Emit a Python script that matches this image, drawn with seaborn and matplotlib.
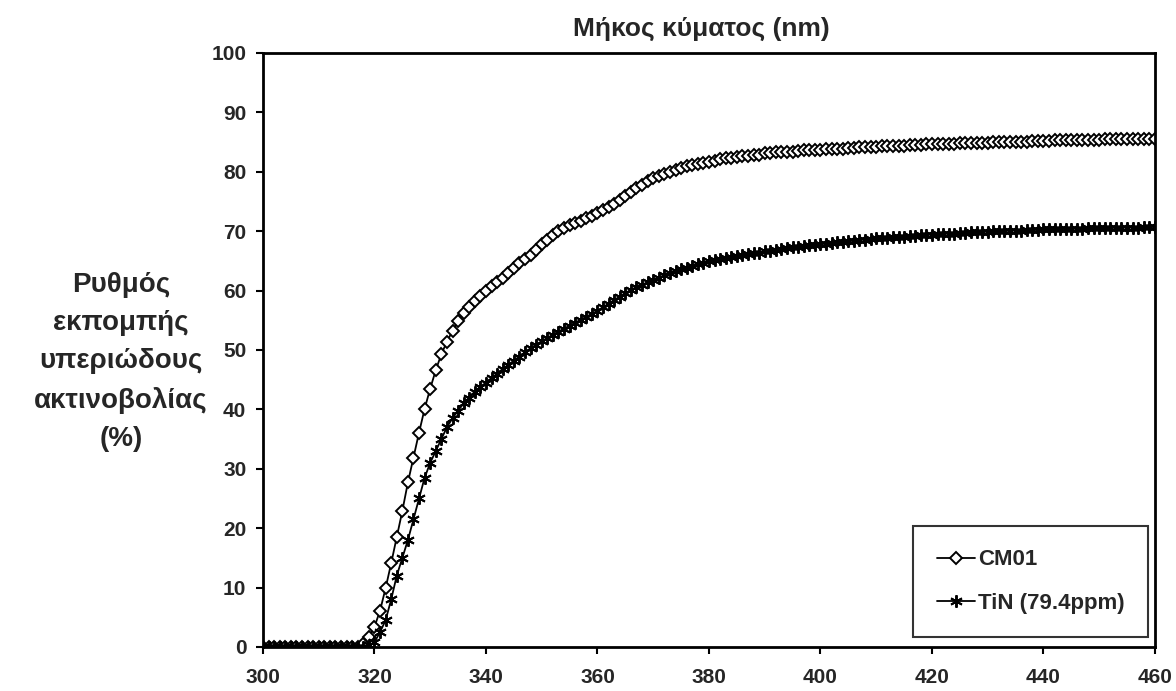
import matplotlib
matplotlib.use("Agg")
import matplotlib.pyplot as plt
import seaborn as sns
import pandas as pd
import numpy as np

# wavelength axis, one reading per nm
wavelength = list(range(300, 461))

cm01 = [0.0] * 18 + [
    0.5, 1.7, 3.4, 6.1, 9.9, 14.1, 18.5, 22.9, 27.7, 31.9,
    36.1, 40.1, 43.5, 46.6, 49.3, 51.4, 53.2, 54.9, 56.2, 57.3,
    58.3, 59.1, 59.9, 60.8, 61.5, 62.2, 63.0, 63.8, 64.6, 65.3,
    66.0, 66.8, 67.8, 68.6, 69.4, 70.0, 70.5, 71.0, 71.4, 71.8,
    72.2, 72.6, 73.1, 73.5, 74.0, 74.6, 75.3, 75.9, 76.6, 77.2,
    77.8, 78.4, 78.9, 79.3, 79.7, 80.0, 80.3, 80.6, 80.9, 81.1,
    81.3, 81.5, 81.7, 81.9, 82.1, 82.3, 82.4, 82.5, 82.6, 82.7,
    82.8, 82.9, 83.1, 83.2, 83.3, 83.3, 83.4, 83.4, 83.5, 83.6,
    83.6, 83.7, 83.7, 83.8, 83.8, 83.9, 83.9, 84.0, 84.0, 84.1,
    84.1, 84.2, 84.2, 84.3, 84.3, 84.3, 84.4, 84.4, 84.5, 84.5,
    84.5, 84.6, 84.6, 84.6, 84.7, 84.7, 84.7, 84.8, 84.8, 84.8,
    84.9, 84.9, 84.9, 85.0, 85.0, 85.0, 85.0, 85.1, 85.1, 85.1,
    85.2, 85.2, 85.2, 85.2, 85.3, 85.3, 85.3, 85.3, 85.4, 85.4,
    85.4, 85.4, 85.4, 85.5, 85.5, 85.5, 85.5, 85.5, 85.6, 85.6,
    85.6, 85.6, 85.6]

tin = [0.0] * 19 + [
    0.3, 0.8, 2.5, 4.5, 8.0, 12.0, 15.0, 18.0, 21.5, 25.0,
    28.5, 31.0, 33.0, 35.0, 37.0, 38.5, 39.8, 41.0, 42.0, 43.0,
    43.8, 44.5, 45.3, 46.0, 46.8, 47.5, 48.2, 48.9, 49.6, 50.3,
    50.9, 51.5, 52.0, 52.6, 53.1, 53.6, 54.1, 54.6, 55.1, 55.6,
    56.1, 56.6, 57.2, 57.8, 58.4, 59.0, 59.6, 60.1, 60.6, 61.0,
    61.4, 61.8, 62.2, 62.6, 63.0, 63.3, 63.6, 63.8, 64.1, 64.4,
    64.6, 64.9, 65.1, 65.3, 65.5, 65.7, 65.8, 66.0, 66.1, 66.3,
    66.4, 66.6, 66.7, 66.9, 67.0, 67.1, 67.3, 67.4, 67.5, 67.6,
    67.7, 67.8, 67.9, 68.0, 68.1, 68.2, 68.3, 68.4, 68.5, 68.6,
    68.7, 68.8, 68.8, 68.9, 69.0, 69.0, 69.1, 69.2, 69.2, 69.3,
    69.4, 69.4, 69.5, 69.5, 69.6, 69.6, 69.7, 69.7, 69.8, 69.8,
    69.9, 69.9, 70.0, 70.0, 70.0, 70.1, 70.1, 70.1, 70.2, 70.2,
    70.2, 70.3, 70.3, 70.3, 70.3, 70.4, 70.4, 70.4, 70.4, 70.5,
    70.5, 70.5, 70.5, 70.5, 70.6, 70.6, 70.6, 70.6, 70.6, 70.7,
    70.7, 70.7]

x_ticks = list(range(300, 461, 20))
y_ticks = list(range(0, 101, 10))

sns.set_style('white')
plt.rcParams['font.family'] = ['Liberation Sans', 'DejaVu Sans']
plt.rcParams['font.weight'] = 'bold'

fig = plt.figure(figsize=(11.76, 6.91), dpi=100)
ax = fig.add_axes([0.2236, 0.0637, 0.7585, 0.8596])

data = pd.DataFrame({'wl': wavelength, 'CM01': cm01, 'TiN (79.4ppm)': tin})

sns.lineplot(data=data, x='wl', y='CM01', ax=ax, color='black', linewidth=1.3,
             marker='D', markersize=6, markerfacecolor='white',
             markeredgecolor='black', markeredgewidth=1.4, label='CM01')
sns.lineplot(data=data, x='wl', y='TiN (79.4ppm)', ax=ax, color='black', linewidth=1.3,
             marker=(6, 2, 0), markersize=9, markeredgecolor='black',
             markeredgewidth=1.4, label='TiN (79.4ppm)')

ax.set_xlim(300, 460)
ax.set_ylim(0, 100)
ax.set_xticks(x_ticks)
ax.set_yticks(y_ticks)
ax.tick_params(axis='both', direction='out', length=5, width=1.5, color='black',
               labelsize=15, pad=7, left=True, bottom=True)
ax.tick_params(axis='x', pad=10)
for lab in ax.get_xticklabels() + ax.get_yticklabels():
    lab.set_fontweight('bold')
ax.set_xlabel('')
ax.set_ylabel('')
for side in ['top', 'left', 'bottom', 'right']:
    ax.spines[side].set_visible(True)
    ax.spines[side].set_color('black')
    ax.spines[side].set_linewidth(2)

fig.text(0.596, 0.958, 'Μήκος κύματος (nm)', ha='center', va='center',
         fontsize=19, fontweight='bold')
fig.text(0.103, 0.476, 'Ρυθμός\nεκπομπής\nυπεριώδους\nακτινοβολίας\n(%)',
         ha='center', va='center', multialignment='center',
         fontsize=20, fontweight='bold', linespacing=1.6)

leg = ax.legend(loc='lower right', bbox_to_anchor=(0.992, 0.017), frameon=True,
                fancybox=False, edgecolor='black', fontsize=16, numpoints=1,
                handlelength=1.7, labelspacing=1.0, borderpad=1.05,
                handletextpad=0.15, borderaxespad=0)
leg.get_frame().set_linewidth(1.5)
for t in leg.get_texts():
    t.set_fontweight('bold')

fig.savefig('out.png', dpi=100, facecolor='white')
